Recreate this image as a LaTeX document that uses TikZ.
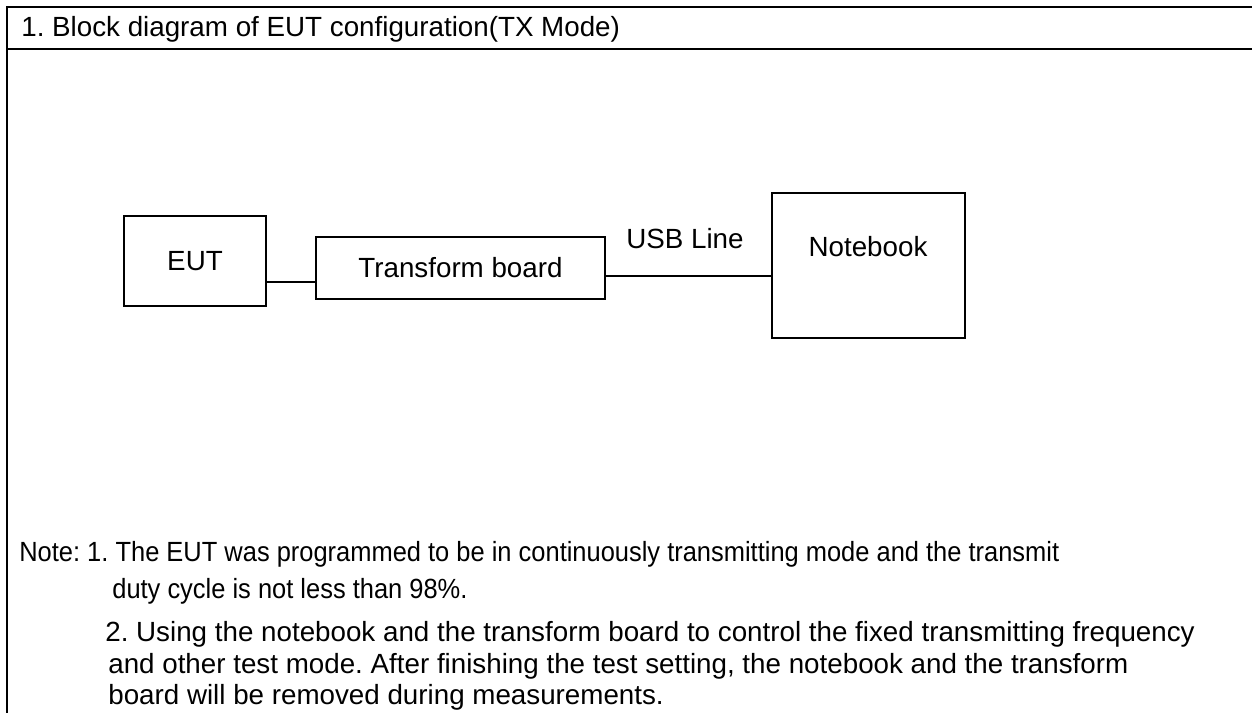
\documentclass[tikz,border=0pt]{standalone}
\usepackage{fontspec}
\setmainfont{Liberation Sans}
\newfontfamily\narrowfont[FakeStretch=0.917]{Liberation Sans}
\frenchspacing
\begin{document}
\begin{tikzpicture}[x=0.02cm,y=-0.02cm,
	font=\fontsize{15.8}{19}\selectfont,
	box/.style={draw,line width=1pt,inner sep=0pt},
	rule/.style={line width=1.6pt},
	txt/.style={inner sep=0pt,anchor=base west}]

	\useasboundingbox (0,0) rectangle (1252,713);

	\coordinate (tl) at (7,7);
	\coordinate (tr) at (1252,7);
	\coordinate (ml) at (7,49);
	\coordinate (mr) at (1252,49);
	\coordinate (bl) at (7,713);
	\draw[rule] (tr) -- (tl) -- (bl);
	\draw[rule] (ml) -- (mr);

	\node[txt] (title) at (21,37) {1. Block diagram of EUT configuration(TX Mode)};

	\node[box,minimum width=2.84cm,minimum height=1.8cm] (eut) at (195,261) {EUT};
	\node[box,minimum width=5.78cm,minimum height=1.24cm] (tb) at (460.5,268) {Transform board};
	\node[box,minimum width=3.86cm,minimum height=2.9cm] (nb) at (868.5,265.5) {};
	\node[anchor=base] (nbt) at (868,256) {Notebook};
	\node[anchor=base] (usb) at (685,249) {USB Line};

	\coordinate (la) at (290,282);
	\coordinate (lb) at (690,276);
	\draw[line width=1pt] (eut.east |- la) -- (tb.west |- la);
	\draw[line width=1pt] (tb.east |- lb) -- (nb.west |- lb);

	\node[txt] (n1) at (19,561) {\narrowfont Note: 1. The EUT was programmed to be in continuously transmitting mode and the transmit};
	\node[txt] (n2) at (112,598) {\narrowfont duty cycle is not less than 98\%.};
	\node[txt] (n3) at (105,641) {2. Using the notebook and the transform board to control the fixed transmitting frequency};
	\node[txt] (n4) at (108,673) {and other test mode. After finishing the test setting, the notebook and the transform};
	\node[txt] (n5) at (108,704) {board will be removed during measurements.};

\end{tikzpicture}
\end{document}
